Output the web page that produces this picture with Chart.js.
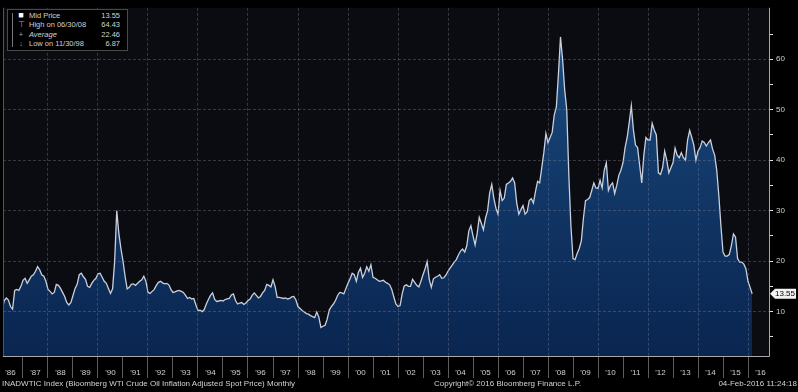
<!DOCTYPE html>
<html><head><meta charset="utf-8">
<script src="https://cdn.jsdelivr.net/npm/chart.js@4/dist/chart.umd.min.js"></script>
<style>
html,body{margin:0;padding:0;background:#000;}
#wrap{position:relative;width:798px;height:392px;overflow:hidden;background:#000;}
canvas{position:absolute;left:0;top:0;}
.txt{position:absolute;font-family:"Liberation Sans",Arial,sans-serif;color:#d2d2d2;white-space:nowrap;}
#legend{left:7px;top:9px;width:119px;height:40px;border:1px solid #4a4a4a;background:#000;font-size:7.5px;}
.row{position:absolute;left:0;width:112px;height:9px;line-height:9px;}
.lbl{position:absolute;left:21px;}
.val{position:absolute;right:0;}
.ico{position:absolute;left:9px;width:8px;text-align:center;color:#aaa;}
#vline{position:absolute;left:4px;top:3px;width:1px;height:34px;background:#777;}
#foot1,#foot2,#foot3{top:377px;height:13px;line-height:13px;font-size:8px;}
</style></head>
<body>
<div id="wrap">
<canvas id="c" width="798" height="392"></canvas>
<div id="legend" class="txt"><div id="vline"></div></div>
<div id="foot1" class="txt" style="left:2px;"></div>
<div id="foot2" class="txt" style="left:434px;"></div>
<div id="foot3" class="txt" style="right:1px;"></div>
</div>
<script>
// first point = end of Feb 1986, monthly
const startYear = 1986, startMonth = 2;
const p1986_1990 = [
 10.2,12.2,12.7,12.3,11,10.5,14.2,14.4,14.2,15,16.2,
 16.6,15.6,16.3,17,17.3,18,18.9,18.3,17.3,17,16,14.4,
 14,13.5,13.8,15.4,15.2,14.6,13.8,13,11.8,11.3,11.8,13.2,
 14.6,15.4,17.3,17.6,16.9,16.4,15,14.8,15.6,16.2,16.6,17.5,
 17.6,16.8,16,15.6,14.6,13.6,14.5,20,30,25.5,22.5,20];
const p1991_1995 = [
 17,14.5,14.8,15.4,15.5,15.2,15.6,16,16.3,17,16,13.8,
 13.6,14,14.4,15.2,15.8,16,15.7,15.5,15.6,15.3,14.4,13.8,
 13.9,14.1,14.2,14,13.8,13.2,12.6,12.8,12.5,12.6,11.3,10.2,
 10.3,10,10.4,11.5,12.4,13.2,13.7,12.4,12,12.1,12.2,12.1,
 12.4,12.5,12.6,13.3,13.5,12.2,11.5,11.7,11.8,11.4,11.7,12.2];
const p1996_2000 = [
 12.5,13.2,13.7,13.2,12.7,13,13.7,14.2,15.4,15.2,14.9,16.3,
 15,12.8,12.8,12.7,12.6,12.7,12.5,12.6,12.9,13,12.3,11,
 10.6,10.2,9.9,9.6,9.5,9.2,9,8.8,9.9,8.9,6.87,7.1,
 7.3,8.5,10.3,11,11.5,12.2,13.2,13.8,13.7,13.5,14.6,15.6,
 16.5,17.6,17.3,16,17.8,18.6,16.8,17.6,18.9,18,19.3,16.8];
const p2001_2005 = [
 16.6,16.3,16,16.1,16.2,15.8,15.6,15.3,14.4,12.9,11.5,11,
 11.2,13.5,15.1,15.3,15,15,16.4,15.8,15.2,14.9,16,17.3,
 18.5,19.9,16.4,14.8,16.5,16.8,17,17.3,16.6,16.7,17.2,18,
 18.6,19.2,19.8,20.3,21.2,22,22.4,21.8,23,26,27,25,
 23.2,25.5,28.7,27.5,26.2,28.5,30,33.5,35.2,32.5,30.5,29.3];
const p2006_2010 = [
 34,32,32.5,35.2,35.5,35.8,36.5,35.5,31.5,29.3,30.2,31,
 29.3,29.8,32,32.4,31.5,33.8,35.8,35.5,38.5,41.5,45.3,43.5,
 44.5,45.5,49,50.5,57,64.43,60,54,50,37,27,20.5,
 20.3,21.5,22.5,24,28.5,32,32.2,32.6,34,35.5,34.5,34.4,
 36,34.5,38,39.5,34,35,35.5,33.4,35,37,38,39.5];
const p2011_2016 = [
 42.5,44.5,47.5,50.8,46,43,42.5,39,35.5,41,44.5,44,
 44,47.3,46,45,37.5,37.2,38.5,41.8,40,37.5,38.5,39.5,
 42.4,41,40.5,41.5,40.5,40,44,45.9,44.5,43,40,41.8,
 42.5,43.8,43.5,42.8,43.5,44,42.2,41,38,33,27,21.8,
 21,21,21.3,23,25.4,24.8,20.5,19.8,19.8,19.4,18.5,16,
 14.8,13.55];

const legendLabels = ["Mid Price","High on 06/30/08","Average","Low on 11/30/98"];
const legendValues = ["13.55","64.43","22.46","6.87"];
const legendIcons = ["\u25A0","\u22A4","+","\u2193"];
const footerTexts = ["INADWTIC Index (Bloomberg WTI Crude Oil Inflation Adjusted Spot Price)  Monthly",
  "Copyright\u00A9 2016 Bloomberg Finance L.P.","04-Feb-2016 11:24:18"];
const yTickValues = [5,10,15,20,25,30,35,40,45,50,55,60,65];
const firstLabelYear = 1986, lastLabelYear = 2016;

const series = [].concat(p1986_1990,p1991_1995,p1996_2000,p2001_2005,p2006_2010,p2011_2016);
const points = series.map((v,i)=>({x: startYear + (startMonth + i)/12, y: v}));
const lastValue = series[series.length-1];

// legend html
const lg = document.getElementById('legend');
legendLabels.forEach((t,i)=>{
  const r = document.createElement('div'); r.className='row'; r.style.top=(0.5+i*9.5)+'px';
  const ic = document.createElement('span'); ic.className='ico'; ic.textContent=legendIcons[i];
  if(i===0){ic.style.color='#fff';ic.style.fontSize='9px';}
  const l = document.createElement('span'); l.className='lbl'; l.textContent=t;
  if(i===2) l.style.fontStyle='italic';
  const v = document.createElement('span'); v.className='val'; v.textContent=legendValues[i];
  r.appendChild(ic); r.appendChild(l); r.appendChild(v); lg.appendChild(r);
});
document.getElementById('foot1').textContent=footerTexts[0];
document.getElementById('foot2').textContent=footerTexts[1];
document.getElementById('foot3').textContent=footerTexts[2];

const bgPlugin = {
  id:'bg',
  beforeDraw(chart){
    const {ctx, chartArea:a} = chart;
    ctx.save(); ctx.fillStyle='#000'; ctx.fillRect(0,0,chart.width,chart.height);
    ctx.fillStyle='#0b0b12'; ctx.fillRect(a.left,a.top,a.right-a.left,a.bottom-a.top); ctx.restore();
  },
  afterDraw(chart){
    const {ctx, chartArea:a} = chart;
    ctx.save();
    ctx.strokeStyle='#a8a8a8'; ctx.lineWidth=1;
    ctx.beginPath(); ctx.moveTo(a.right+0.5,a.top); ctx.lineTo(a.right+0.5,a.bottom+0.5);
    ctx.moveTo(a.left,a.bottom+0.5); ctx.lineTo(a.right+0.5,a.bottom+0.5); ctx.stroke();
    ctx.strokeStyle='#555'; ctx.beginPath(); ctx.moveTo(a.left+0.5,a.top); ctx.lineTo(a.left+0.5,a.bottom); ctx.stroke();
    // last value tag
    const y = chart.scales.y.getPixelForValue(lastValue);
    const x0 = a.right+1, x1 = chart.width-2, h=5;
    ctx.fillStyle='#f2f2f2';
    ctx.beginPath(); ctx.moveTo(x0,y); ctx.lineTo(x0+5,y-h); ctx.lineTo(x1,y-h); ctx.lineTo(x1,y+h); ctx.lineTo(x0+5,y+h); ctx.closePath(); ctx.fill();
    ctx.fillStyle='#000'; ctx.font='8px "Liberation Sans", Arial, sans-serif'; ctx.textBaseline='middle'; ctx.textAlign='right';
    ctx.fillText(lastValue.toFixed(2), x1-1, y+0.5);
    ctx.restore();
  }
};

new Chart(document.getElementById('c'), {
  type:'line',
  data:{datasets:[{
    data:points, borderColor:'#c9d0dc', borderWidth:1.3, pointRadius:0, tension:0,
    fill:'start',
    backgroundColor:(ctx)=>{
      const a = ctx.chart.chartArea; if(!a) return '#0c2b55';
      const g = ctx.chart.ctx.createLinearGradient(0,a.top,0,a.bottom);
      g.addColorStop(0,'#1f5288'); g.addColorStop(0.45,'#123a6a'); g.addColorStop(1,'#0a2550');
      return g;
    }
  }]},
  options:{
    responsive:false, animation:false, events:[],
    layout:{padding:{left:3,top:3,right:0,bottom:0}},
    plugins:{legend:{display:false},tooltip:{enabled:false}},
    scales:{
      x:{
        type:'linear', position:'bottom', min:1986.2, max:2016.84,
        afterFit(s){s.height=36;},
        afterBuildTicks(s){
          const t=[];
          for(let y=firstLabelYear;y<=lastLabelYear;y++){ if(y>firstLabelYear) t.push({value:y}); t.push({value:y+0.5}); }
          s.ticks=t;
        },
        grid:{
          z:1, drawTicks:true, tickLength:22, lineWidth:1, tickWidth:1,
          color:(c)=>{const v=c.tick&&c.tick.value; return (v!==undefined && Number.isInteger(v) && v%2===0)?'rgba(130,130,150,0.38)':'rgba(0,0,0,0)';},
          tickColor:(c)=>{const v=c.tick&&c.tick.value; return (v!==undefined && Number.isInteger(v))?'#5c5c5c':'rgba(0,0,0,0)';},
          tickBorderDash:[]
        },
        border:{display:false, dash:[3,2]},
        ticks:{
          autoSkip:false, maxRotation:0, minRotation:0, padding:-10, color:'#cfcfcf',
          font:{family:'"Liberation Sans", Arial, sans-serif', size:8},
          callback:(v)=> Number.isInteger(v) ? '' : "'" + String(Math.floor(v)).slice(2)
        }
      },
      y:{
        type:'linear', position:'right', min:1.2, max:70.2,
        afterFit(s){s.width=29;},
        afterBuildTicks(s){ s.ticks=yTickValues.map(v=>({value:v})); },
        grid:{
          z:1, drawTicks:true, tickLength:4, lineWidth:1,
          color:(c)=>{const v=c.tick&&c.tick.value; return (v!==undefined && v%10===0)?'rgba(130,130,150,0.38)':'rgba(0,0,0,0)';},
          tickColor:'#e0e0e0', tickBorderDash:[]
        },
        border:{display:false, dash:[3,2]},
        ticks:{
          padding:3, color:'#cfcfcf',
          font:{family:'"Liberation Sans", Arial, sans-serif', size:8},
          callback:(v)=> v%10===0 ? String(v) : ''
        }
      }
    }
  },
  plugins:[bgPlugin]
});
</script>
</body></html>
